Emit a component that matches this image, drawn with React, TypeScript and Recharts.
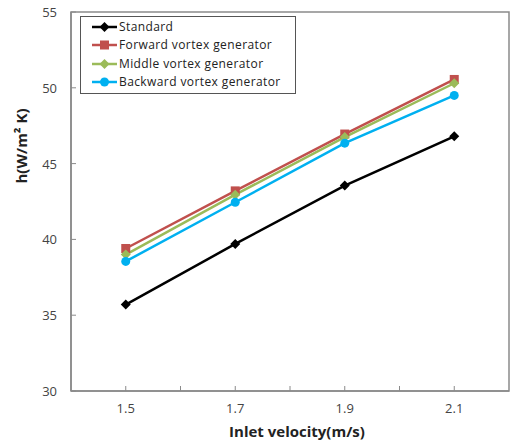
import React from "react";
import {
  Line,
  LineChart,
  ReferenceArea,
  XAxis,
  YAxis,
} from "recharts";

const velocities = [1.5, 1.7, 1.9, 2.1];
const standard = [35.7, 39.7, 43.55, 46.8];
const forward = [39.4, 43.2, 46.95, 50.55];
const middle = [39.0, 42.95, 46.75, 50.3];
const backward = [38.55, 42.45, 46.35, 49.5];

const xTicks = [1.5, 1.6, 1.7, 1.8, 1.9, 2.0, 2.1];
const xLabelled = [1.5, 1.7, 1.9, 2.1];
const yTicks = [30, 35, 40, 45, 50, 55];

const seriesInfo = [
  { key: "standard", name: "Standard", color: "#000000", shape: "diamond" },
  { key: "forward", name: "Forward vortex generator", color: "#c0504d", shape: "square" },
  { key: "middle", name: "Middle vortex generator", color: "#9bbb59", shape: "diamond" },
  { key: "backward", name: "Backward vortex generator", color: "#00b0f0", shape: "circle" },
];

const data = velocities.map((v, i) => ({
  v,
  standard: standard[i],
  forward: forward[i],
  middle: middle[i],
  backward: backward[i],
}));

const AXIS = "#8a8a8a";
const FONT = "'Open Sans', 'Liberation Sans', sans-serif";
const X_MARGIN = 16;
const Y_MARGIN = 14;

function Marker({ cx, cy, shape, color }: any) {
  if (cx == null || cy == null) return null;
  if (shape === "square") {
    return <rect x={cx - 4.5} y={cy - 4.5} width={9} height={9} fill={color} />;
  }
  if (shape === "circle") {
    return <circle cx={cx} cy={cy} r={4.5} fill={color} />;
  }
  return (
    <path
      d={`M${cx},${cy - 5}L${cx + 5},${cy}L${cx},${cy + 5}L${cx - 5},${cy}Z`}
      fill={color}
    />
  );
}

function XTick({ x, y, payload }: any) {
  const axisY = y - X_MARGIN;
  const show = xLabelled.some((t) => Math.abs(t - payload.value) < 1e-6);
  return (
    <g>
      <line x1={x} x2={x} y1={axisY} y2={axisY - 5} stroke={AXIS} />
      {show && (
        <text x={x} y={y} dy={6} textAnchor="middle" fill="#444" fontSize={13} fontFamily={FONT}>
          {payload.value.toFixed(1)}
        </text>
      )}
    </g>
  );
}

function YTick({ x, y, payload }: any) {
  const axisX = x + Y_MARGIN;
  return (
    <g>
      <line x1={axisX} x2={axisX + 5} y1={y} y2={y} stroke={AXIS} />
      <text x={x} y={y} dy={5} textAnchor="end" fill="#444" fontSize={13} fontFamily={FONT}>
        {payload.value}
      </text>
    </g>
  );
}

function LegendBox() {
  return (
    <div
      style={{
        position: "absolute",
        left: 80,
        top: 16,
        width: 200,
        border: "1px solid #555",
        background: "#fff",
        padding: "1px 4px 2px 10px",
        fontFamily: FONT,
        fontSize: 12,
        letterSpacing: 0.4,
        color: "#222",
        lineHeight: "18.3px",
      }}
    >
      {seriesInfo.map((s) => (
        <div key={s.key} style={{ display: "flex", alignItems: "center", whiteSpace: "nowrap" }}>
          <svg width={27} height={12} style={{ marginRight: 1 }}>
            <line x1={1} x2={26} y1={6} y2={6} stroke={s.color} strokeWidth={2.5} />
            <Marker cx={13.5} cy={6} shape={s.shape} color={s.color} />
          </svg>
          <span>{s.name}</span>
        </div>
      ))}
    </div>
  );
}

export default function App() {
  return (
    <div style={{ position: "absolute", left: 0, top: 0, width: 512, height: 441, background: "#fff" }}>
      <LineChart
        width={512}
        height={441}
        data={data}
        margin={{ top: 12, right: 3, bottom: 0, left: 0 }}
      >
        <XAxis
          dataKey="v"
          type="number"
          domain={[1.4, 2.2]}
          ticks={xTicks}
          interval={0}
          tickSize={0}
          tickMargin={X_MARGIN}
          tick={<XTick />}
          axisLine={{ stroke: AXIS, strokeWidth: 1.5 }}
          height={50}
          label={{
            value: "Inlet velocity(m/s)",
            position: "insideBottom",
            offset: 0,
            dx: 7,
            dy: -4,
            fill: "#222",
            fontSize: 15,
            fontWeight: "bold",
            fontFamily: FONT,
          }}
        />
        <YAxis
          type="number"
          domain={[30, 55]}
          ticks={yTicks}
          interval={0}
          tickSize={0}
          tickMargin={Y_MARGIN}
          tick={<YTick />}
          axisLine={{ stroke: AXIS, strokeWidth: 1.5 }}
          width={71}
          label={{
            value: "h(W/m\u00b2 K)",
            angle: -90,
            position: "insideLeft",
            offset: 18,
            dy: -18,
            dx: 4,
            fill: "#222",
            fontSize: 15,
            fontWeight: "bold",
            fontFamily: FONT,
          }}
        />
        <ReferenceArea
          x1={1.4}
          x2={2.2}
          y1={30}
          y2={55}
          fill="none"
          stroke={AXIS}
          strokeWidth={1.5}
          ifOverflow="visible"
        />
        {seriesInfo.map((s) => (
          <Line
            key={s.key}
            dataKey={s.key}
            name={s.name}
            stroke={s.color}
            strokeWidth={2.5}
            isAnimationActive={false}
            dot={(p: any) => <Marker key={`${s.key}-${p.index}`} cx={p.cx} cy={p.cy} shape={s.shape} color={s.color} />}
            activeDot={false}
          />
        ))}
      </LineChart>
      <LegendBox />
    </div>
  );
}
